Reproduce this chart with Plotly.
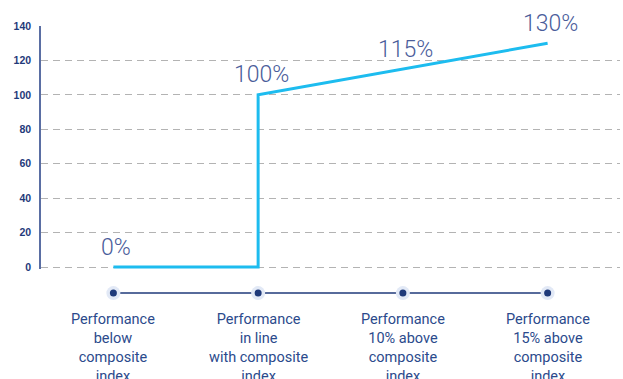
import plotly.graph_objects as go

categories = [
    "Performance<br>below<br>composite<br>index",
    "Performance<br>in line<br>with composite<br>index",
    "Performance<br>10% above<br>composite<br>index",
    "Performance<br>15% above<br>composite<br>index",
]
cat_pos = [0, 1, 2, 3]
line_x = [0, 1, 1, 2, 3]
line_y = [0, 0, 100, 115, 130]
label_x = [0, 1, 2, 3]
label_y = [0, 100, 115, 130]
label_text = ["0%", "100%", "115%", "130%"]
y_ticks = [0, 20, 40, 60, 80, 100, 120, 140]

NAVY = "#1f3a7a"
H, T, B = 379, 25.5, 20
PH = H - T - B


def frac(py):
    return (H - B - py) / PH


fig = go.Figure()

fig.add_trace(go.Scatter(x=line_x, y=line_y, mode="lines",
                         line=dict(color="#1dbcef", width=3),
                         hoverinfo="skip", showlegend=False))

# timeline beneath
fig.add_trace(go.Scatter(x=cat_pos, y=[0] * len(cat_pos), mode="lines",
                         line=dict(color=NAVY, width=1.5), yaxis="y2",
                         hoverinfo="skip", showlegend=False))
fig.add_trace(go.Scatter(x=cat_pos, y=[0] * len(cat_pos), mode="markers",
                         marker=dict(size=14, color="#e2e9f6"), yaxis="y2",
                         hoverinfo="skip", showlegend=False))
fig.add_trace(go.Scatter(x=cat_pos, y=[0] * len(cat_pos), mode="markers",
                         marker=dict(size=7, color=NAVY), yaxis="y2",
                         hoverinfo="skip", showlegend=False))

for xv, yv, t in zip(label_x, label_y, label_text):
    fig.add_annotation(x=xv, y=yv, text=t, showarrow=False, xref="x", yref="y",
                       xshift=3, yshift=20,
                       font=dict(family="Roboto", weight=300, size=23, color="#4a5c9a"))

for xv, t in zip(cat_pos, categories):
    fig.add_annotation(x=xv, y=frac(309), text=t, showarrow=False, xref="x", yref="paper",
                       yanchor="top", align="center",
                       font=dict(family="Roboto", size=14.5, color="#2b4a8c"))

fig.update_layout(
    width=623, height=H,
    margin=dict(l=41, r=2.5, t=T, b=B),
    paper_bgcolor="white", plot_bgcolor="white",
    xaxis=dict(range=[-0.5, 3.5], showgrid=False, zeroline=False, showline=False,
               showticklabels=False, fixedrange=True),
    yaxis=dict(range=[-1.2, 140], domain=[frac(269), 1], tickvals=y_ticks,
               showgrid=True, gridcolor="#b3b3b3", griddash="7px,5px", gridwidth=1,
               zeroline=False, showline=True, linecolor="#5a6ea3", linewidth=1.5,
               ticks="", ticklabelstandoff=6,
               tickfont=dict(family="Liberation Sans", size=10.5, color=NAVY, weight="bold")),
    yaxis2=dict(range=[-1, 1], domain=[frac(293) - 0.04, frac(293) + 0.04],
                anchor="x", visible=False, fixedrange=True),
)

fig.write_html("out.html")
